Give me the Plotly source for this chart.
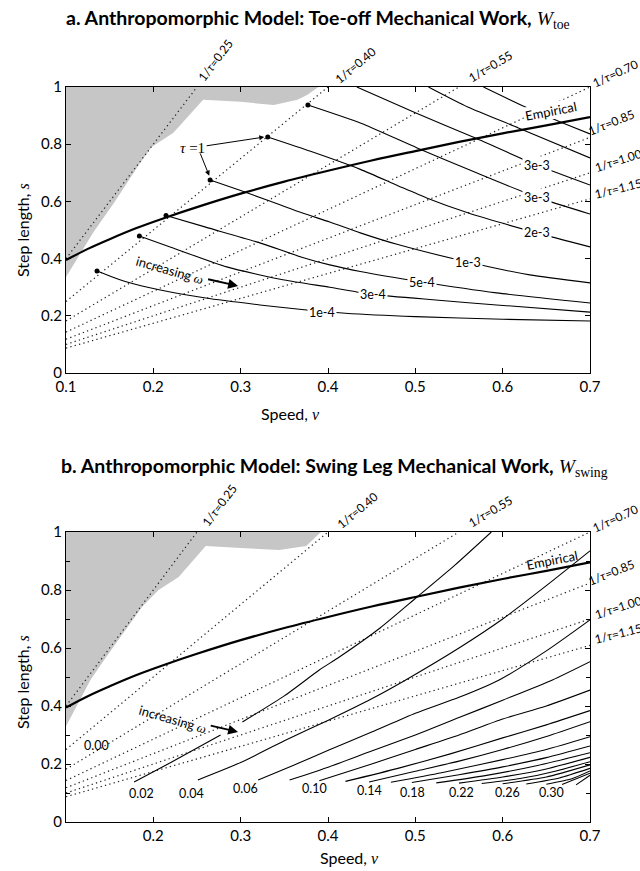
import plotly.graph_objects as go

# ---------------- data ----------------
TAU_LABELS = ["0.25", "0.40", "0.55", "0.70", "0.85", "1.00", "1.15"]
# dotted constant-1/tau lines (endpoints)
DOT_V0 = [0.1, 0.1, 0.1, 0.1, 0.1, 0.1, 0.1]
DOT_S0 = [0.40, 0.25, 0.182, 0.143, 0.118, 0.10, 0.087]
DOT_V1 = [0.25, 0.40, 0.55, 0.70, 0.70, 0.70, 0.70]
DOT_S1 = [1.0, 1.0, 1.0, 1.0, 0.824, 0.70, 0.609]

# empirical speed / step-length relation
EMP_V = [0.1, 0.125, 0.15, 0.18, 0.2145, 0.25, 0.3, 0.35, 0.4, 0.45, 0.5, 0.55, 0.6, 0.65, 0.7]
EMP_S = [0.395, 0.434, 0.468, 0.506, 0.544, 0.58, 0.627, 0.669, 0.707, 0.743, 0.776,
         0.808, 0.838, 0.866, 0.895]

# infeasible (grey) regions
GRAY_A_V = [0.1, 0.1, 0.131, 0.156, 0.185, 0.198, 0.223, 0.257, 0.30, 0.338, 0.365, 0.376, 0.389]
GRAY_A_S = [1.0, 0.336, 0.49, 0.60, 0.735, 0.79, 0.84, 0.955, 0.948, 0.937, 0.955, 0.972, 1.0]
GRAY_B_V = [0.1, 0.1, 0.128, 0.146, 0.187, 0.206, 0.229, 0.26, 0.30, 0.344, 0.375, 0.392]
GRAY_B_S = [1.0, 0.33, 0.49, 0.569, 0.741, 0.80, 0.845, 0.952, 0.945, 0.938, 0.952, 1.0]

# panel a: toe-off work contours
A_V = [
    [0.1355, 0.17, 0.208, 0.26, 0.322, 0.37, 0.42, 0.5, 0.6, 0.7],
    [0.184, 0.22, 0.284, 0.35, 0.402, 0.451, 0.52, 0.593, 0.7],
    [0.2145, 0.26, 0.322, 0.37, 0.402, 0.437, 0.508, 0.593, 0.7],
    [0.265, 0.30, 0.33, 0.37, 0.402, 0.437, 0.479, 0.56, 0.631, 0.7],
    [0.331, 0.38, 0.437, 0.48, 0.513, 0.56, 0.639, 0.7],
    [0.377, 0.437, 0.502, 0.57, 0.639, 0.7],
    [0.433, 0.50, 0.566, 0.639, 0.7],
    [0.515, 0.56, 0.618, 0.7],
    [0.578, 0.626, 0.666, 0.7],
]
A_S = [
    [0.357, 0.318, 0.29, 0.262, 0.238, 0.222, 0.209, 0.197, 0.188, 0.182],
    [0.479, 0.44, 0.371, 0.325, 0.30, 0.275, 0.256, 0.238, 0.213],
    [0.551, 0.51, 0.455, 0.405, 0.378, 0.355, 0.318, 0.28, 0.245],
    [0.675, 0.638, 0.605, 0.56, 0.528, 0.49, 0.45, 0.388, 0.343, 0.315],
    [0.825, 0.775, 0.712, 0.655, 0.612, 0.56, 0.49, 0.441],
    [0.937, 0.874, 0.787, 0.70, 0.615, 0.556],
    [1.0, 0.91, 0.825, 0.727, 0.657],
    [1.0, 0.93, 0.857, 0.752],
    [1.0, 0.93, 0.878, 0.836],
]
A_LABELS = ["1e-4", "3e-4", "5e-4", "1e-3", "2e-3", "3e-3", "3e-3"]
A_LABEL_V = [0.393, 0.451, 0.508, 0.56, 0.639, 0.639, 0.639]
A_LABEL_S = [0.213, 0.275, 0.318, 0.388, 0.49, 0.615, 0.727]

# panel b: swing-leg work contours (0.02 ... 0.34)
B_V = [
    [0.178, 0.22, 0.277, None, 0.302, 0.35, 0.39, 0.413, 0.46, 0.502, 0.545, 0.587],
    [0.251, 0.30, 0.35, 0.401, 0.45, 0.489, 0.55, 0.6, 0.65, 0.7],
    [0.32, 0.36, 0.401, 0.45, 0.5, 0.55, 0.596, 0.65, 0.7],
    [0.356, 0.401, 0.45, 0.5, 0.55, 0.60, 0.657, 0.7],
    [0.39, 0.45, 0.5, 0.55, 0.6, 0.65, 0.7],
    [0.42, 0.48, 0.54, 0.6, 0.65, 0.7],
    [0.447, 0.5, 0.55, 0.6, 0.65, 0.7],
    [0.472, 0.53, 0.6, 0.65, 0.7],
    [0.496, 0.55, 0.6, 0.65, 0.7],
    [0.524, 0.58, 0.64, 0.7],
    [0.55, 0.6, 0.65, 0.7],
    [0.576, 0.62, 0.66, 0.7],
    [0.60, 0.65, 0.7],
    [0.627, 0.665, 0.7],
    [0.65, 0.68, 0.7],
    [0.668, 0.7],
    [0.684, 0.7],
]
B_S = [
    [0.138, 0.205, 0.30, None, 0.345, 0.435, 0.524, 0.569, 0.67, 0.776, 0.885, 1.0],
    [0.145, 0.205, 0.28, 0.352, 0.425, 0.49, 0.60, 0.70, 0.815, 0.935],
    [0.145, 0.195, 0.248, 0.31, 0.375, 0.43, 0.49, 0.59, 0.697],
    [0.145, 0.19, 0.245, 0.30, 0.36, 0.42, 0.49, 0.553],
    [0.142, 0.20, 0.25, 0.30, 0.355, 0.40, 0.455],
    [0.14, 0.185, 0.235, 0.29, 0.335, 0.384],
    [0.138, 0.175, 0.21, 0.25, 0.295, 0.346],
    [0.137, 0.17, 0.215, 0.25, 0.294],
    [0.136, 0.163, 0.19, 0.222, 0.262],
    [0.135, 0.16, 0.195, 0.239],
    [0.134, 0.155, 0.183, 0.223],
    [0.133, 0.15, 0.175, 0.208],
    [0.132, 0.155, 0.197],
    [0.131, 0.152, 0.185],
    [0.130, 0.15, 0.176],
    [0.129, 0.168],
    [0.128, 0.161],
]
B_LABELS = ["0.00", "0.02", "0.04", "0.06", "0.10", "0.14", "0.18", "0.22", "0.26", "0.30"]
B_LABEL_V = [0.135, 0.187, 0.244, 0.305, 0.385, 0.448, 0.497, 0.553, 0.605, 0.656]
B_LABEL_S = [0.265, 0.099, 0.10, 0.116, 0.116, 0.11, 0.103, 0.103, 0.103, 0.103]

X_TICKS_A = [0.1, 0.2, 0.3, 0.4, 0.5, 0.6, 0.7]
X_TICKS_B = [0.2, 0.3, 0.4, 0.5, 0.6, 0.7]
Y_TICKS = [0, 0.2, 0.4, 0.6, 0.8, 1.0]
Y_TICKTEXT = ["0", "0.2", "0.4", "0.6", "0.8", "1"]

# ---------------- figure ----------------
FONT = "Lato"
SERIF = "Liberation Serif"
W, H = 640, 871
ML, MR, MT, MB = 66, 50, 87, 49
PW, PH = W - ML - MR, H - MT - MB


def px2paper(px, py):
    return (px - ML) / PW, (H - MB - py) / PH


fig = go.Figure()


def add_common(xa, ya, gv, gs):
    fig.add_trace(go.Scatter(x=gv, y=gs, fill="toself", fillcolor="#c6c6c6",
                             mode="lines", line=dict(width=0), xaxis=xa, yaxis=ya,
                             hoverinfo="skip"))
    for i in range(len(DOT_V0)):
        fig.add_trace(go.Scatter(x=[DOT_V0[i], DOT_V1[i]], y=[DOT_S0[i], DOT_S1[i]],
                                 mode="lines", xaxis=xa, yaxis=ya,
                                 line=dict(color="#222222", width=1.2, dash="1.3px,3.2px")))


def add_contours(xa, ya, vs, ss):
    for v, s in zip(vs, ss):
        fig.add_trace(go.Scatter(x=v, y=s, mode="lines", xaxis=xa, yaxis=ya,
                                 line=dict(color="black", width=1.1, shape="spline",
                                           smoothing=0.6),
                                 connectgaps=False))


def add_emp(xa, ya):
    fig.add_trace(go.Scatter(x=EMP_V, y=EMP_S, mode="lines", xaxis=xa, yaxis=ya,
                             line=dict(color="black", width=2.2, shape="spline",
                                       smoothing=1.0)))


# panel a
add_common("x", "y", GRAY_A_V, GRAY_A_S)
add_contours("x", "y", A_V, A_S)
add_emp("x", "y")
fig.add_trace(go.Scatter(x=[v[0] for v in A_V[:6]], y=[s[0] for s in A_S[:6]],
                         mode="markers", xaxis="x", yaxis="y",
                         marker=dict(color="black", size=5)))
# panel b
add_common("x2", "y2", GRAY_B_V, GRAY_B_S)
add_contours("x2", "y2", B_V, B_S)
add_emp("x2", "y2")

ann = []


def A(**kw):
    kw.setdefault("xanchor", "center")
    kw.setdefault("yanchor", "middle")
    ann.append(kw)


# 1/tau labels (pixel positions around the frame)
tau_px_a = [(215, 60, -53), (355, 65, -40), (490, 66, -31), (615, 73, -25),
            (611, 122, -22), (618, 160, -18), (618, 188, -14)]
tau_px_b = [(219, 505, -53), (357, 510, -40), (490, 511, -31), (615, 518, -25),
            (611, 572, -22), (618, 607, -18), (618, 633, -14)]
for pos in (tau_px_a, tau_px_b):
    for lab, (px, py, ang) in zip(TAU_LABELS, pos):
        xx, yy = px2paper(px, py)
        A(x=xx, y=yy, xref="paper", yref="paper", showarrow=False,
          text="1/<i>τ</i>=" + lab, textangle=ang,
          font=dict(family=FONT, size=12, color="black"))

for lab, px, py in zip(A_LABELS, A_LABEL_V, A_LABEL_S):
    A(x=px, y=py, xref="x", yref="y", showarrow=False, text=lab,
      bgcolor="white", borderpad=1, font=dict(family=FONT, size=12.5, color="black"))
for lab, px, py in zip(B_LABELS, B_LABEL_V, B_LABEL_S):
    A(x=px, y=py, xref="x2", yref="y2", showarrow=False, text=lab,
      font=dict(family=FONT, size=12.5, color="black"))

# Empirical labels
A(x=0.655, y=0.915, xref="x", yref="y", showarrow=False, text="Empirical",
  textangle=-11, bgcolor="white", borderpad=0,
  font=dict(family=FONT, size=13, color="black"))
A(x=0.657, y=0.905, xref="x2", yref="y2", showarrow=False, text="Empirical",
  textangle=-11, font=dict(family=FONT, size=13, color="black"))

# increasing omega
for xr, yr, tx, ty, hx, hy, tlx, tly in (("x", "y", 0.219, 0.36, 0.297, 0.304, 0.261, 0.329),
                                         ("x2", "y2", 0.222, 0.355, 0.297, 0.31, 0.264, 0.334)):
    A(x=tx, y=ty, xref=xr, yref=yr, showarrow=False,
      text='increasing <span style="font-family:\'Liberation Serif\'"><i>ω</i></span>',
      textangle=16, font=dict(family=FONT, size=13, color="black"))
    ann.append(dict(x=hx, y=hy, ax=tlx, ay=tly, xref=xr, yref=yr, axref=xr, ayref=yr,
                    text="", showarrow=True, arrowhead=2, arrowsize=1.1, arrowwidth=1.8,
                    arrowcolor="black"))

# tau = 1 label with two arrows
ann.append(dict(x=0.327, y=0.825, ax=0.245, ay=0.787, xref="x", yref="y", axref="x", ayref="y",
                text='<i>τ</i> =1', showarrow=True, arrowhead=2, arrowsize=1, arrowwidth=1,
                arrowcolor="black", font=dict(family=SERIF, size=15, color="black")))
ann.append(dict(x=0.264, y=0.69, ax=0.253, ay=0.773, xref="x", yref="y", axref="x", ayref="y",
                text="", showarrow=True, arrowhead=2, arrowsize=1, arrowwidth=1,
                arrowcolor="black"))

# titles
tx, ty = px2paper(318, 19)
A(x=tx, y=ty, xref="paper", yref="paper", showarrow=False,
  text='<b>a. Anthropomorphic Model: Toe-off Mechanical Work,</b> '
       '<span style="font-family:\'Liberation Serif\'"><i>W</i><sub>toe</sub></span>',
  font=dict(family=FONT, size=19.5, color="black"))
tx, ty = px2paper(334, 467)
A(x=tx, y=ty, xref="paper", yref="paper", showarrow=False,
  text='<b>b. Anthropomorphic Model: Swing Leg Mechanical Work,</b> '
       '<span style="font-family:\'Liberation Serif\'"><i>W</i><sub>swing</sub></span>',
  font=dict(family=FONT, size=19.5, color="black"))
# axis titles
for px, py in ((290, 413), (349, 857)):
    xx, yy = px2paper(px, py)
    A(x=xx, y=yy, xref="paper", yref="paper", showarrow=False,
      text='Speed, <span style="font-family:\'Liberation Serif\'"><i>v</i></span>',
      font=dict(family=FONT, size=16, color="black"))
for px, py in ((22, 230), (22, 682)):
    xx, yy = px2paper(px, py)
    A(x=xx, y=yy, xref="paper", yref="paper", showarrow=False, textangle=-90,
      text='Step length, <span style="font-family:\'Liberation Serif\'"><i>s</i></span>',
      font=dict(family=FONT, size=16, color="black"))

axis_common = dict(showgrid=False, zeroline=False, showline=True, linecolor="black",
                   linewidth=1, mirror="allticks", ticks="inside", ticklen=5,
                   tickcolor="black", tickfont=dict(family=FONT, size=15, color="black"))

ya_top = (H - MB - 373) / PH
yb_top = (H - MB - 532) / PH

fig.update_layout(
    width=W, height=H,
    margin=dict(l=ML, r=MR, t=MT, b=MB),
    paper_bgcolor="white", plot_bgcolor="white",
    showlegend=False,
    font=dict(family=FONT, color="black"),
    xaxis=dict(domain=[0, 1], range=[0.1, 0.7], anchor="y", tickvals=X_TICKS_A,
               ticktext=[str(t) for t in X_TICKS_A], **axis_common),
    yaxis=dict(domain=[ya_top, 1.0], range=[0, 1], anchor="x", tickvals=Y_TICKS,
               ticktext=Y_TICKTEXT, **axis_common),
    xaxis2=dict(domain=[0, 1], range=[0.1, 0.7], anchor="y2", tickvals=X_TICKS_B,
                ticktext=[str(t) for t in X_TICKS_B], **axis_common),
    yaxis2=dict(domain=[0, yb_top], range=[0, 1], anchor="x2", tickvals=Y_TICKS,
                ticktext=Y_TICKTEXT,
                minor=dict(ticks="inside", ticklen=4, tickcolor="black", dtick=0.1, tick0=0),
                **axis_common),
    annotations=ann,
)

fig.write_html("out.html")
